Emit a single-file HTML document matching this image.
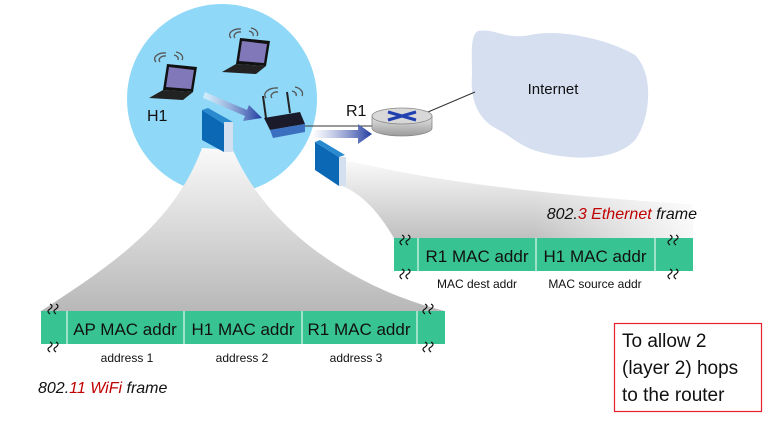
<!DOCTYPE html>
<html><head><meta charset="utf-8"><style>
body{margin:0;width:776px;height:421px;overflow:hidden;background:#fff;font-family:"Liberation Sans",sans-serif;}
svg{position:absolute;left:0;top:0}
</style></head><body>
<svg width="776" height="421" viewBox="0 0 776 421" xmlns="http://www.w3.org/2000/svg">
<defs>
<linearGradient id="fan" x1="0" y1="0" x2="0" y2="1">
<stop offset="0" stop-color="#f9f9f9"/><stop offset="1" stop-color="#b8b8b8"/></linearGradient>
<linearGradient id="fan2" x1="0" y1="0" x2="0" y2="1">
<stop offset="0" stop-color="#fafafa"/><stop offset="1" stop-color="#c0c0c0"/></linearGradient>
<linearGradient id="fade" x1="0" y1="0" x2="1" y2="0">
<stop offset="0.55" stop-color="#fff" stop-opacity="0"/><stop offset="1" stop-color="#fff" stop-opacity="0.9"/></linearGradient>
<linearGradient id="arr" x1="0" y1="0" x2="1" y2="0">
<stop offset="0" stop-color="#ffffff" stop-opacity="0.6"/><stop offset="1" stop-color="#1f3aa0"/></linearGradient>
<linearGradient id="rt" x1="0" y1="0" x2="0" y2="1">
<stop offset="0" stop-color="#e6e6e6"/><stop offset="1" stop-color="#9a9a9a"/></linearGradient>
</defs>
<circle cx="222" cy="99" r="95" fill="#8fd8f8"/>
<path d="M478,31 C495,28 505,40 530,35 C560,28 610,40 635,55 C655,75 650,120 635,140 C615,162 570,160 540,152 C520,147 510,135 495,128 C478,118 470,100 472,75 C472,55 470,35 478,31 Z" fill="#d5dff0"/>
<text x="553" y="94" font-size="15" text-anchor="middle" fill="#111">Internet</text>
<line x1="428" y1="112" x2="475" y2="92" stroke="#333" stroke-width="1"/>
<!-- fans -->
<path d="M202,148 L233,150 C270,235 360,290 445,311 L41,311 C120,260 175,220 202,148 Z" fill="url(#fan)"/>
<path d="M340,185 L345,160 C450,185 560,195 693,205 L693,238 L394,238 C380,215 365,195 340,185 Z" fill="url(#fan2)"/>
<path d="M340,185 L345,160 C450,185 560,195 693,205 L693,238 L394,238 C380,215 365,195 340,185 Z" fill="url(#fade)"/>
<!-- blue rects -->
<path d="M202,110 L224,124 L224,152 L202,140 Z" fill="#0a68b4"/>
<path d="M202,110 L208,108 L233,122 L224,124 Z" fill="#2a8ad0"/>
<rect x="224" y="122" width="9" height="30" fill="#d4e0f0"/>
<path d="M315,142 L339,157 L339,186 L315,170 Z" fill="#0a68b4"/>
<path d="M315,142 L320,140 L345,155 L339,157 Z" fill="#2a8ad0"/>
<rect x="339" y="157" width="7" height="29" fill="#d4e0f0"/>
<!-- laptops -->
<g transform="translate(155,62)">
<path d="M12,2 L42,5 L38,30 L8,28 Z" fill="#111"/><path d="M14,5 L39,8 L36,27 L11,25 Z" fill="#8078b8"/>
<path d="M8,28 L38,30 L28,38 L-6,36 Z" fill="#222"/>
</g>
<g transform="translate(228,36)">
<path d="M12,2 L42,5 L38,30 L8,28 Z" fill="#111"/><path d="M14,5 L39,8 L36,27 L11,25 Z" fill="#8078b8"/>
<path d="M8,28 L38,30 L28,38 L-6,36 Z" fill="#222"/>
</g>
<g fill="none" stroke="#555" stroke-width="1.3">
<path d="M160,62 a6,4 0 0 1 6,-6 M156,62 a10,6 0 0 1 10,-9 M178,60 a6,4 0 0 0 -4,-5 M182,60 a9,6 0 0 0 -6,-8"/>
<path d="M235,38 a6,4 0 0 1 6,-6 M231,38 a10,6 0 0 1 10,-9 M253,36 a6,4 0 0 0 -4,-5 M257,36 a9,6 0 0 0 -6,-8"/>
<path d="M272,98 a6,4 0 0 1 6,-6 M266,98 a12,7 0 0 1 12,-10 M296,96 a6,4 0 0 0 -4,-5 M302,96 a10,7 0 0 0 -7,-9"/>
</g>
<text x="147" y="121" font-size="16" fill="#111">H1</text>
<path d="M205,92 L247,110 L249,105 L262,118 L243,121 L245,116 L203,98 Z" fill="url(#arr)"/>
<line x1="266" y1="118" x2="263" y2="96" stroke="#222" stroke-width="2"/>
<line x1="290" y1="113" x2="287" y2="92" stroke="#222" stroke-width="2"/>
<path d="M264,118 L300,112 L305,124 L270,130 Z" fill="#1a1a2a"/>
<path d="M270,130 L305,124 L305,132 L273,138 Z" fill="#3b6fc0"/>
<line x1="305" y1="126" x2="372" y2="126" stroke="#333" stroke-width="1"/>
<path d="M312,130 L358,130 L358,124 L372,134 L358,144 L358,138 L312,138 Z" fill="url(#arr)"/>
<text x="346" y="116" font-size="16" fill="#111">R1</text>
<path d="M372,116 L372,128 A30,8 0 0 0 432,128 L432,116 Z" fill="url(#rt)" stroke="#888" stroke-width="0.8"/>
<ellipse cx="402" cy="116" rx="30" ry="8" fill="#d8d8d8" stroke="#888" stroke-width="0.8"/>
<path d="M388,112 L416,120 M416,112 L388,120" stroke="#2040b0" stroke-width="3"/>
<!-- ethernet frame -->
<rect x="394" y="238" width="299" height="33" fill="#37c492"/>
<g stroke="#fff" stroke-width="1"><line x1="418" y1="238" x2="418" y2="271"/><line x1="536" y1="238" x2="536" y2="271"/><line x1="655" y1="238" x2="655" y2="271"/></g>
<g font-size="17" fill="#111" text-anchor="middle"><text x="477" y="262">R1 MAC addr</text><text x="595" y="262">H1 MAC addr</text></g>
<g font-size="12" fill="#111" text-anchor="middle"><text x="477" y="288">MAC dest addr</text><text x="595" y="288">MAC source addr</text></g>
<text x="697" y="219" font-size="16" font-style="italic" text-anchor="end" fill="#111">802.<tspan fill="#c00000">3 Ethernet</tspan> frame</text>
<!-- wifi frame -->
<rect x="41" y="311" width="404" height="33" fill="#37c492"/>
<g stroke="#fff" stroke-width="1"><line x1="67" y1="311" x2="67" y2="344"/><line x1="184" y1="311" x2="184" y2="344"/><line x1="302" y1="311" x2="302" y2="344"/><line x1="417" y1="311" x2="417" y2="344"/></g>
<g font-size="17" fill="#111" text-anchor="middle"><text x="125" y="335">AP MAC addr</text><text x="243" y="335">H1 MAC addr</text><text x="359" y="335">R1 MAC addr</text></g>
<g font-size="12" fill="#111" text-anchor="middle"><text x="127" y="362">address 1</text><text x="242" y="362">address 2</text><text x="356" y="362">address 3</text></g>
<text x="38" y="393" font-size="16" font-style="italic" fill="#111">802.<tspan fill="#c00000">11 WiFi</tspan>  frame</text>
<g fill="none" stroke="#111" stroke-width="1.2">
<path d="M50,314 q-4,-3 0,-5 q4,-3 0,-5 M56,314 q-4,-3 0,-5 q4,-3 0,-5"/>
<path d="M50,352 q-4,-3 0,-5 q4,-3 0,-5 M56,352 q-4,-3 0,-5 q4,-3 0,-5"/>
<path d="M425,314 q-4,-3 0,-5 q4,-3 0,-5 M431,314 q-4,-3 0,-5 q4,-3 0,-5"/>
<path d="M425,352 q-4,-3 0,-5 q4,-3 0,-5 M431,352 q-4,-3 0,-5 q4,-3 0,-5"/>
<path d="M402,245 q-4,-3 0,-5 q4,-3 0,-5 M408,245 q-4,-3 0,-5 q4,-3 0,-5"/>
<path d="M402,279 q-4,-3 0,-5 q4,-3 0,-5 M408,279 q-4,-3 0,-5 q4,-3 0,-5"/>
<path d="M670,245 q-4,-3 0,-5 q4,-3 0,-5 M676,245 q-4,-3 0,-5 q4,-3 0,-5"/>
<path d="M670,279 q-4,-3 0,-5 q4,-3 0,-5 M676,279 q-4,-3 0,-5 q4,-3 0,-5"/>
</g>
<rect x="614.5" y="323.5" width="147" height="88" fill="#fff" stroke="#e8202a" stroke-width="1.2"/>
<g font-size="19" fill="#111"><text x="622" y="347">To allow 2</text><text x="622" y="374">(layer 2) hops</text><text x="622" y="401">to the router</text></g>
</svg>
</body></html>
